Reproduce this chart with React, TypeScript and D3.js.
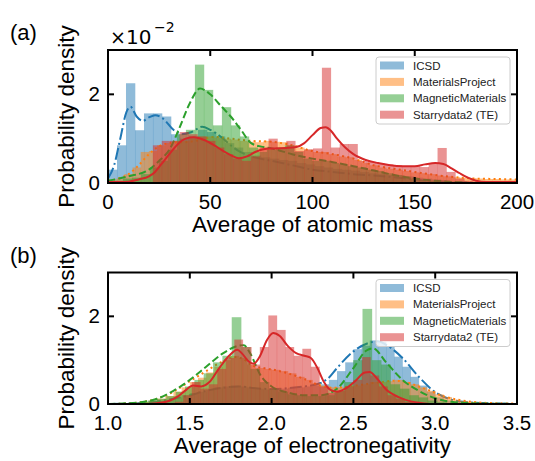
import React from "react";
import * as d3 from "d3";

// ---------- shared ----------
const seriesNames = ["ICSD", "MaterialsProject", "MagneticMaterials", "Starrydata2 (TE)"];
const densityTicks = [0, 2];

// ---------- (a) average atomic mass ----------
const massTicks = [0, 50, 100, 150, 200];
// histogram bins: [start, width] and heights (x1e-2)
const massIcsdBin = [0, 4.4];
const massIcsdHist = [0.3, 0.85, 2.25, 1.19, 1.57, 1.57, 1.5, 1.1, 1.0, 1.05, 1.2, 1.15, 1.05, 0.9, 0.8, 0.7, 0.62, 0.58, 0.55, 0.52, 0.5, 0.45, 0.42, 0.38, 0.35, 0.32, 0.3, 0.28, 0.25, 0.22, 0.2, 0.18, 0.17, 0.15, 0.12, 0.1, 0.08, 0.06, 0.04, 0.03, 0.02];
const massMpBin = [0, 4];
const massMpHist = [0.05, 0.1, 0.2, 0.35, 0.7, 0.72, 0.85, 0.9, 0.95, 0.95, 1.0, 1.05, 1.05, 1.02, 1.0, 0.98, 0.95, 0.93, 0.92, 0.95, 0.93, 0.92, 0.85, 0.8, 0.75, 0.7, 0.7, 0.65, 0.6, 0.58, 0.52, 0.45, 0.4, 0.35, 0.32, 0.3, 0.27, 0.24, 0.22, 0.2, 0.17, 0.15, 0.13, 0.12, 0.11, 0.1, 0.09, 0.09, 0.08, 0.08];
const massMagBin = [2.9, 4.4];
const massMagHist = [0.05, 0.1, 0.12, 0.2, 0.35, 0.5, 0.75, 1.1, 1.2, 2.67, 2.1, 1.3, 1.71, 1.3, 1.05, 0.8, 0.7, 0.75, 0.8, 0.85, 0.7, 0.55, 0.5, 0.5, 0.45, 0.42, 0.38, 0.35, 0.3, 0.27, 0.22, 0.18, 0.14, 0.1, 0.07, 0.05, 0.03, 0.02];
const massTeBin = [21.95, 4.35];
const massTeHist = [0.85, 0.95, 0.95, 1.15, 1.1, 1.05, 0.95, 0.8, 0.65, 0.55, 0.5, 0.6, 0.8, 1.0, 0.78, 0.95, 0.72, 0.76, 0.78, 2.6, 0.8, 0.88, 0.88, 0.5, 0.48, 0.45, 0.42, 0.4, 0.38, 0.38, 0.36, 0.45, 0.79, 0.25, 0.1, 0.05, 0.03, 0.02, 0.02, 0.02, 0.02];
// KDE curves [x, density]
const massIcsdKde = [[0, 0.1], [3, 0.4], [6, 1.0], [9, 1.6], [11, 1.72], [14, 1.5], [17, 1.4], [20, 1.48], [23, 1.53], [27, 1.45], [32, 1.2], [36, 1.1], [41, 1.15], [46, 1.27], [50, 1.2], [55, 1.05], [60, 0.85], [64, 0.72], [70, 0.6], [80, 0.5], [90, 0.4], [100, 0.3], [110, 0.25], [120, 0.2], [130, 0.17], [140, 0.13], [150, 0.08], [160, 0.04], [170, 0.02], [185, 0.0], [200, 0.0]];
const massMpKde = [[0, 0.05], [5, 0.1], [10, 0.2], [15, 0.4], [20, 0.65], [25, 0.83], [30, 0.9], [40, 0.93], [45, 0.97], [52, 1.04], [60, 1.0], [70, 0.95], [80, 0.93], [90, 0.85], [100, 0.72], [110, 0.65], [120, 0.55], [130, 0.4], [140, 0.32], [150, 0.25], [160, 0.18], [170, 0.13], [180, 0.1], [190, 0.09], [200, 0.08]];
const massMagKde = [[0, 0.05], [10, 0.15], [20, 0.3], [25, 0.5], [30, 0.75], [35, 1.25], [40, 1.8], [45, 2.13], [50, 2.0], [55, 1.75], [60, 1.5], [65, 1.2], [70, 0.9], [75, 0.82], [80, 0.78], [90, 0.65], [100, 0.55], [110, 0.47], [120, 0.38], [130, 0.28], [140, 0.18], [150, 0.1], [160, 0.05], [170, 0.02], [180, 0.0], [200, 0.0]];
const massTeKde = [[0, 0.02], [10, 0.03], [15, 0.08], [20, 0.15], [23, 0.25], [26, 0.42], [30, 0.65], [34, 0.87], [38, 1.0], [42, 1.03], [47, 0.97], [52, 0.85], [56, 0.73], [60, 0.63], [64, 0.56], [68, 0.6], [72, 0.7], [76, 0.76], [81, 0.78], [87, 0.79], [92, 0.81], [96, 0.9], [100, 1.08], [104, 1.24], [106.5, 1.26], [109, 1.18], [112, 1.0], [116, 0.8], [120, 0.65], [126, 0.52], [132, 0.45], [138, 0.4], [144, 0.38], [150, 0.38], [155, 0.42], [160, 0.45], [164, 0.43], [168, 0.33], [172, 0.22], [176, 0.12], [180, 0.05], [185, 0.02], [200, 0.02]];

// ---------- (b) average electronegativity ----------
const enTicks = [1.0, 1.5, 2.0, 2.5, 3.0, 3.5];
const enIcsdBin = [1.0, 0.05];
const enIcsdHist = [0, 0, 0, 0, 0.02, 0.05, 0.08, 0.1, 0.15, 0.2, 0.25, 0.28, 0.32, 0.38, 0.4, 0.42, 0.4, 0.38, 0.35, 0.33, 0.34, 0.35, 0.37, 0.38, 0.4, 0.42, 0.45, 0.55, 0.75, 0.95, 1.25, 1.33, 1.45, 1.42, 1.3, 1.08, 0.85, 0.62, 0.42, 0.28, 0.15, 0.08, 0.04, 0.02, 0.01, 0.01, 0, 0, 0, 0];
const enMpBin = [1.0, 0.05];
const enMpHist = [0, 0.01, 0.02, 0.03, 0.05, 0.08, 0.12, 0.18, 0.28, 0.38, 0.5, 0.6, 0.72, 0.85, 1.0, 1.1, 1.05, 0.9, 0.82, 0.8, 0.78, 0.75, 0.7, 0.62, 0.55, 0.48, 0.42, 0.38, 0.38, 0.4, 0.42, 0.45, 0.5, 0.5, 0.52, 0.55, 0.5, 0.45, 0.38, 0.3, 0.22, 0.16, 0.1, 0.07, 0.05, 0.03, 0.02, 0.02, 0.01, 0.01];
const enMagBin = [1.014, 0.0571];
const enMagHist = [0, 0, 0.02, 0.04, 0.08, 0.12, 0.18, 0.28, 0.4, 0.55, 0.7, 0.95, 1.1, 1.98, 1.3, 0.8, 0.5, 0.35, 0.28, 0.22, 0.2, 0.18, 0.18, 0.2, 0.3, 0.5, 1.0, 2.17, 1.0, 0.9, 0.45, 0.35, 0.2, 0.15, 0.08, 0.04, 0.02, 0.01];
const enTeBin = [1.408, 0.052];
const enTeHist = [0.05, 0.2, 0.5, 0.35, 0.45, 0.8, 1.05, 1.47, 1.3, 0.9, 1.3, 2.02, 1.69, 1.3, 1.1, 1.26, 0.85, 0.4, 0.25, 0.3, 0.4, 0.55, 1.07, 0.65, 0.4, 0.2, 0.12, 0.05, 0.02];
const enIcsdKde = [[1.0, 0], [1.2, 0.02], [1.3, 0.06], [1.4, 0.12], [1.5, 0.2], [1.6, 0.3], [1.7, 0.37], [1.8, 0.4], [1.9, 0.36], [2.0, 0.34], [2.1, 0.36], [2.2, 0.4], [2.3, 0.48], [2.35, 0.6], [2.4, 0.82], [2.5, 1.2], [2.6, 1.4], [2.65, 1.43], [2.7, 1.35], [2.8, 1.05], [2.9, 0.62], [3.0, 0.27], [3.1, 0.1], [3.2, 0.04], [3.3, 0.02], [3.5, 0.0]];
const enMpKde = [[1.0, 0], [1.1, 0.01], [1.2, 0.04], [1.3, 0.12], [1.4, 0.28], [1.5, 0.52], [1.6, 0.75], [1.7, 0.97], [1.77, 1.07], [1.82, 1.04], [1.88, 0.88], [1.95, 0.82], [2.0, 0.79], [2.1, 0.7], [2.2, 0.57], [2.3, 0.42], [2.37, 0.37], [2.45, 0.39], [2.55, 0.44], [2.65, 0.49], [2.75, 0.53], [2.82, 0.5], [2.9, 0.4], [2.97, 0.3], [3.05, 0.18], [3.15, 0.09], [3.25, 0.04], [3.35, 0.02], [3.5, 0.01]];
const enMagKde = [[1.0, 0], [1.2, 0.04], [1.3, 0.12], [1.4, 0.3], [1.5, 0.55], [1.6, 0.85], [1.7, 1.15], [1.8, 1.33], [1.83, 1.34], [1.87, 1.15], [1.93, 0.67], [2.0, 0.4], [2.1, 0.26], [2.2, 0.2], [2.3, 0.2], [2.4, 0.35], [2.5, 0.82], [2.58, 1.22], [2.62, 1.27], [2.7, 0.95], [2.8, 0.55], [2.9, 0.3], [3.0, 0.13], [3.1, 0.05], [3.2, 0.02], [3.5, 0]];
const enTeKde = [[1.0, 0], [1.2, 0.0], [1.3, 0.02], [1.38, 0.08], [1.43, 0.18], [1.47, 0.3], [1.52, 0.42], [1.57, 0.4], [1.62, 0.5], [1.68, 0.82], [1.74, 1.1], [1.79, 1.24], [1.82, 1.15], [1.86, 0.97], [1.89, 0.92], [1.93, 1.1], [1.97, 1.45], [2.01, 1.62], [2.05, 1.55], [2.1, 1.32], [2.15, 1.16], [2.2, 1.1], [2.24, 1.05], [2.28, 0.82], [2.32, 0.5], [2.36, 0.32], [2.4, 0.28], [2.45, 0.35], [2.51, 0.52], [2.57, 0.72], [2.6, 0.73], [2.64, 0.6], [2.7, 0.33], [2.78, 0.15], [2.85, 0.06], [2.92, 0.02], [3.0, 0], [3.5, 0]];

// ---------- styles ----------
const COLORS = ["#1f77b4", "#ff7f0e", "#2ca02c", "#d62728"];
const DASHES = ["12,3.2,2,3.2", "2,3.3", "7.4,3.2", undefined];
const FONT = "'Liberation Sans', Arial, Helvetica, sans-serif";
const MATHFONT = "'DejaVu Sans', sans-serif";

type Box = { l: number; r: number; t: number; b: number };

function Panel(props: {
  id: string;
  box: Box;
  xDomain: [number, number];
  xTicks: number[];
  fmt: (v: number) => string;
  bins: number[][];
  hists: number[][];
  kdes: number[][][];
  panelLabel: string;
  xLabel: string;
  showExp: boolean;
}) {
  const { id, box, xDomain, xTicks, fmt, bins, hists, kdes, panelLabel, xLabel, showExp } = props;
  const x = d3.scaleLinear().domain(xDomain).range([box.l, box.r]);
  const y = d3.scaleLinear().domain([0, 3]).range([box.b, box.t]);
  const line = d3
    .line<number[]>()
    .x((d) => x(d[0]))
    .y((d) => y(d[1]))
    .curve(d3.curveMonotoneX);
  const tickLen = 6;
  const midY = (box.t + box.b) / 2;
  const midX = (box.l + box.r) / 2;

  const legW = 134;
  const legH = 67;
  const legX = box.r - 141;
  const legY = box.t + 7;

  return (
    <g>
      <defs>
        <clipPath id={`clip-${id}`}>
          <rect x={box.l} y={box.t} width={box.r - box.l} height={box.b - box.t} />
        </clipPath>
      </defs>
      <g clipPath={`url(#clip-${id})`}>
        {seriesNames.map((name, s) => (
          <g key={name}>
            {hists[s].map((v, i) => {
              const x0 = bins[s][0] + i * bins[s][1];
              const x1 = x0 + bins[s][1];
              return (
                <rect
                  key={i}
                  x={x(x0)}
                  y={y(v)}
                  width={x(x1) - x(x0) + 0.3}
                  height={y(0) - y(v)}
                  fill={COLORS[s]}
                  fillOpacity={0.5}
                />
              );
            })}
            <path
              d={line(kdes[s]) || ""}
              fill="none"
              stroke={COLORS[s]}
              strokeWidth={2}
              strokeDasharray={DASHES[s]}
            />
          </g>
        ))}
      </g>
      {/* frame */}
      <rect x={box.l} y={box.t} width={box.r - box.l} height={box.b - box.t} fill="none" stroke="#000" strokeWidth={2} />
      {/* x ticks (inward, top & bottom) */}
      {xTicks.map((t) => (
        <g key={t}>
          <line x1={x(t)} x2={x(t)} y1={box.b} y2={box.b - tickLen} stroke="#000" strokeWidth={2} />
          <line x1={x(t)} x2={x(t)} y1={box.t} y2={box.t + tickLen} stroke="#000" strokeWidth={2} />
          <text x={x(t)} y={box.b + 25.5} textAnchor="middle" fontSize={20.5} fontFamily={FONT} fill="#000">
            {fmt(t)}
          </text>
        </g>
      ))}
      {/* y ticks */}
      {densityTicks.map((t) => (
        <g key={t}>
          <line x1={box.l} x2={box.l + tickLen} y1={y(t)} y2={y(t)} stroke="#000" strokeWidth={2} />
          <line x1={box.r} x2={box.r - tickLen} y1={y(t)} y2={y(t)} stroke="#000" strokeWidth={2} />
          <text x={box.l - 8} y={y(t) + 7} textAnchor="end" fontSize={20.5} fontFamily={FONT} fill="#000">
            {t}
          </text>
        </g>
      ))}
      {/* labels */}
      <text x={midX} y={box.b + 49} textAnchor="middle" fontSize={22.5} fontFamily={FONT} fill="#000">
        {xLabel}
      </text>
      <text
        transform={`translate(74,${midY}) rotate(-90)`}
        textAnchor="middle"
        fontSize={22.5}
        fontFamily={FONT}
        fill="#000"
      >
        Probability density
      </text>
      <text x={10} y={box.t - 10} fontSize={22} fontFamily={FONT} fill="#000">
        {panelLabel}
      </text>
      {showExp && (
        <g fontFamily={MATHFONT} fill="#000">
          <text x={110} y={box.t - 6.5} fontSize={19}>×</text>
          <text x={126} y={box.t - 6.5} fontSize={20}>10</text>
          <text x={154} y={box.t - 18} fontSize={14}>−2</text>
        </g>
      )}
      {/* legend */}
      <rect x={legX} y={legY} width={legW} height={legH} rx={3} fill="#fff" fillOpacity={0.8} stroke="#cccccc" strokeWidth={1} />
      {seriesNames.map((name, s) => {
        const cy = legY + 8.5 + s * 16.4;
        return (
          <g key={name}>
            <rect x={legX + 4} y={cy - 4} width={24} height={8} fill={COLORS[s]} fillOpacity={0.5} />
            <text x={legX + 37} y={cy + 4} fontSize={11.5} fontFamily={FONT} fill="#222">
              {name}
            </text>
          </g>
        );
      })}
    </g>
  );
}

export default function App() {
  return (
    <svg
      width={535}
      height={461}
      viewBox="0 0 535 461"
      style={{ position: "absolute", left: 0, top: 0, background: "#fff" }}
    >
      <Panel
        id="a"
        box={{ l: 108, r: 517, t: 50, b: 183 }}
        xDomain={[0, 200]}
        xTicks={massTicks}
        fmt={(v) => String(v)}
        bins={[massIcsdBin, massMpBin, massMagBin, massTeBin]}
        hists={[massIcsdHist, massMpHist, massMagHist, massTeHist]}
        kdes={[massIcsdKde, massMpKde, massMagKde, massTeKde]}
        panelLabel="(a)"
        xLabel="Average of atomic mass"
        showExp={true}
      />
      <Panel
        id="b"
        box={{ l: 108, r: 517, t: 272.5, b: 404 }}
        xDomain={[1.0, 3.5]}
        xTicks={enTicks}
        fmt={(v) => v.toFixed(1)}
        bins={[enIcsdBin, enMpBin, enMagBin, enTeBin]}
        hists={[enIcsdHist, enMpHist, enMagHist, enTeHist]}
        kdes={[enIcsdKde, enMpKde, enMagKde, enTeKde]}
        panelLabel="(b)"
        xLabel="Average of electronegativity"
        showExp={false}
      />
    </svg>
  );
}
